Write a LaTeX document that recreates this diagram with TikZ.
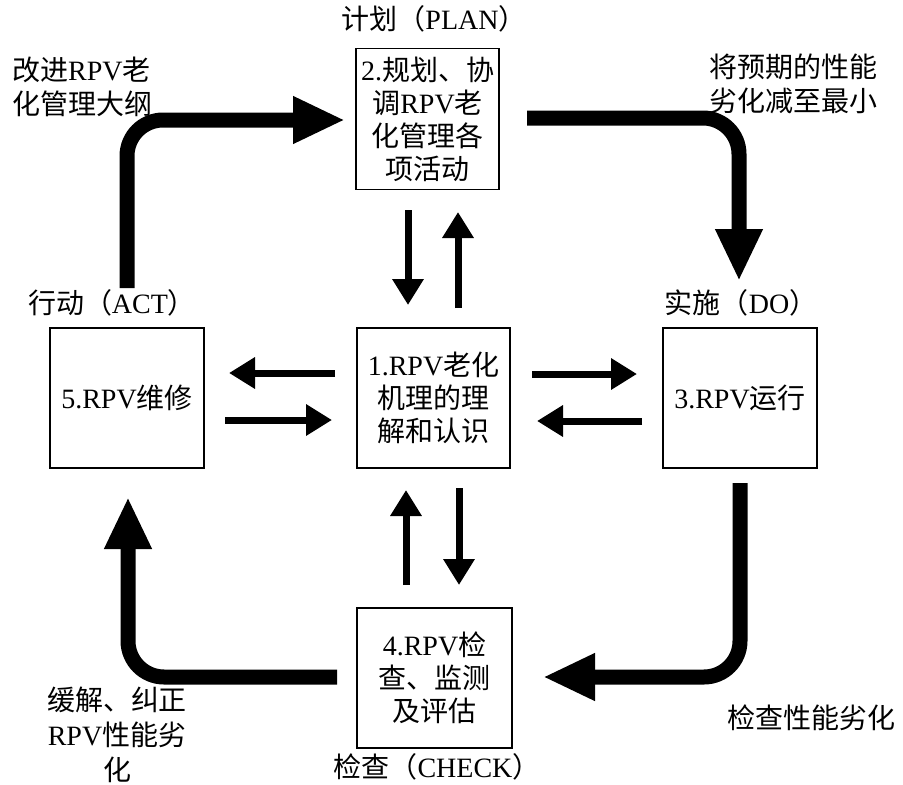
\documentclass[tikz,border=0pt]{standalone}
\usepackage{fontspec}
\setmainfont{Noto Sans CJK SC}
\newfontfamily\lt{Liberation Serif}
\usetikzlibrary{arrows.meta}
\begin{document}
\begin{tikzpicture}[x=1pt,y=-1pt,
  box/.style={draw, line width=1.3pt, align=center, inner sep=0pt,
    font=\fontsize{28}{33}\selectfont},
  lbl/.style={inner sep=0pt, font=\fontsize{28}{34}\selectfont},
  bigarrow/.style={line width=15pt, rounded corners=36pt,
    -{Triangle[width=44pt,length=52pt]}},
  smallarrow/.style={line width=7pt, -{Triangle[width=30pt,length=26pt]}}]
\useasboundingbox[fill=white] (0,0) rectangle (903,785);

% boxes
\node[box, minimum width=143pt, minimum height=141pt] (b2) at (427.5,119)
  {{\lt 2.}规划、协\\调{\lt RPV}老\\化管理各\\项活动};
\node[box, minimum width=153pt, minimum height=140pt] (b1) at (433.5,398)
  {{\lt 1.RPV}老化\\机理的理\\解和认识};
\node[box, minimum width=154pt, minimum height=140pt] (b5) at (127,398)
  {{\lt 5.RPV}维修};
\node[box, minimum width=154pt, minimum height=140pt] (b3) at (740,398)
  {{\lt 3.RPV}运行};
\node[box, minimum width=155pt, minimum height=140pt] (b4) at (434.5,678)
  {{\lt 4.RPV}检\\查、监测\\及评估};

% stage labels
\node[lbl] (plan) at (434,19) {计划（{\lt PLAN}）};
\node[lbl] (act) at (112,303) {行动（{\lt ACT}）};
\node[lbl] (do) at (741,303) {实施（{\lt DO}）};
\node[lbl] (check) at (437,767) {检查（{\lt CHECK}）};

% side labels
\node[lbl, align=left, anchor=west] (improve) at (12,87) {改进{\lt RPV}老\\化管理大纲};
\node[lbl, align=left, anchor=west] (minimize) at (709,84) {将预期的性能\\劣化减至最小};
\node[lbl, anchor=west] (inspect) at (727,718) {检查性能劣化};
\node[lbl, align=center, font=\fontsize{28}{35}\selectfont] (mitigate) at (117,735)
  {缓解、纠正\\{\lt RPV}性能劣\\化};

% big cycle arrows
\coordinate (tl1) at (127,288); \coordinate (tl2) at (127,120); \coordinate (tl3) at (345,120);
\coordinate (tr1) at (527,118); \coordinate (tr2) at (739,118); \coordinate (tr3) at (739,281);
\coordinate (br1) at (740,483); \coordinate (br2) at (740,677); \coordinate (br3) at (543,677);
\coordinate (bl1) at (337,677); \coordinate (bl2) at (128,677); \coordinate (bl3) at (128,497);
\draw[bigarrow] (tl1) -- (tl2) -- (tl3);
\draw[bigarrow] (tr1) -- (tr2) -- (tr3);
\draw[bigarrow] (br1) -- (br2) -- (br3);
\draw[bigarrow] (bl1) -- (bl2) -- (bl3);

% small exchange arrows
\coordinate (d1s) at (408,210); \coordinate (d1e) at (408,305);
\coordinate (u1s) at (458,308); \coordinate (u1e) at (458,212);
\coordinate (l1s) at (335,373); \coordinate (l1e) at (229,373);
\coordinate (r1s) at (225,420); \coordinate (r1e) at (332,420);
\coordinate (r2s) at (532,374); \coordinate (r2e) at (637,374);
\coordinate (l2s) at (642,421); \coordinate (l2e) at (537,421);
\coordinate (d2s) at (459,488); \coordinate (d2e) at (459,585);
\coordinate (u2s) at (406,585); \coordinate (u2e) at (406,490);
\draw[smallarrow] (d1s) -- (d1e);
\draw[smallarrow] (u1s) -- (u1e);
\draw[smallarrow] (l1s) -- (l1e);
\draw[smallarrow] (r1s) -- (r1e);
\draw[smallarrow] (r2s) -- (r2e);
\draw[smallarrow] (l2s) -- (l2e);
\draw[smallarrow] (d2s) -- (d2e);
\draw[smallarrow] (u2s) -- (u2e);
\end{tikzpicture}
\end{document}
